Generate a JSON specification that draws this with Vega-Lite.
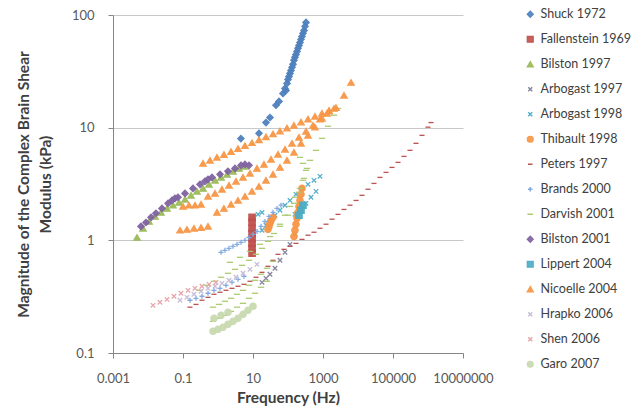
{
  "$schema": "https://vega.github.io/schema/vega-lite/v6.json",
  "width": 350,
  "height": 338,
  "autosize": {"type": "none"},
  "padding": {"left": 113, "top": 15, "right": 178, "bottom": 66},
  "background": "white",
  "config": {
    "view": {"stroke": null},
    "font": "Lato",
    "axis": {"labelFont": "Lato", "titleFont": "Lato", "labelColor": "#595959", "titleColor": "#404040", "domainColor": "#868686", "tickColor": "#868686", "gridColor": "#c8c8c8", "labelFontSize": 12.5, "titleFontSize": 15.5, "titleFontWeight": "bold"},
    "legend": {"labelFont": "Lato", "labelFontSize": 12.5, "labelColor": "#404040"}
  },
  "data": {"values": [
    {"s":"Shuck 1972","f":4.5,"g":8.0},{"s":"Shuck 1972","f":14.8,"g":8.9},{"s":"Shuck 1972","f":23.5,"g":11.1},{"s":"Shuck 1972","f":30.6,"g":12.3},{"s":"Shuck 1972","f":45.4,"g":15.8},{"s":"Shuck 1972","f":55.3,"g":17.1},{"s":"Shuck 1972","f":72,"g":20.1},{"s":"Shuck 1972","f":82,"g":22.3},{"s":"Shuck 1972","f":87.7,"g":21.4},{"s":"Shuck 1972","f":93.6,"g":24.7},{"s":"Shuck 1972","f":100,"g":26.8},{"s":"Shuck 1972","f":107,"g":28.5},{"s":"Shuck 1972","f":114,"g":30.3},{"s":"Shuck 1972","f":122,"g":32.2},{"s":"Shuck 1972","f":130,"g":34.3},{"s":"Shuck 1972","f":139,"g":36.5},{"s":"Shuck 1972","f":148,"g":39.6},{"s":"Shuck 1972","f":158,"g":42.1},{"s":"Shuck 1972","f":169,"g":44.7},{"s":"Shuck 1972","f":181,"g":47.5},{"s":"Shuck 1972","f":193,"g":50.6},{"s":"Shuck 1972","f":206,"g":53.7},{"s":"Shuck 1972","f":220,"g":57.1},{"s":"Shuck 1972","f":235,"g":60.8},{"s":"Shuck 1972","f":251,"g":64.6},{"s":"Shuck 1972","f":268,"g":68.7},{"s":"Shuck 1972","f":287,"g":73},{"s":"Shuck 1972","f":306,"g":79.3},{"s":"Shuck 1972","f":327,"g":86},
    {"s":"Fallenstein 1969","f":9.4,"g":1.6},{"s":"Fallenstein 1969","f":9.4,"g":1.45},{"s":"Fallenstein 1969","f":9.4,"g":1.28},{"s":"Fallenstein 1969","f":9.4,"g":1.15},{"s":"Fallenstein 1969","f":9.4,"g":1.04},{"s":"Fallenstein 1969","f":9.4,"g":0.94},{"s":"Fallenstein 1969","f":9.4,"g":0.85},{"s":"Fallenstein 1969","f":9.4,"g":0.77},
    {"s":"Bilston 1997","f":0.00485,"g":1.06},{"s":"Bilston 1997","f":0.0072,"g":1.28},{"s":"Bilston 1997","f":0.0107,"g":1.47},{"s":"Bilston 1997","f":0.0158,"g":1.63},{"s":"Bilston 1997","f":0.0235,"g":1.77},{"s":"Bilston 1997","f":0.0349,"g":1.92},{"s":"Bilston 1997","f":0.0518,"g":2.05},{"s":"Bilston 1997","f":0.0769,"g":2.17},{"s":"Bilston 1997","f":0.114,"g":2.31},{"s":"Bilston 1997","f":0.169,"g":2.51},{"s":"Bilston 1997","f":0.251,"g":2.72},{"s":"Bilston 1997","f":0.373,"g":2.89},{"s":"Bilston 1997","f":0.553,"g":3.14},{"s":"Bilston 1997","f":0.821,"g":3.41},{"s":"Bilston 1997","f":1.22,"g":3.62},{"s":"Bilston 1997","f":1.81,"g":3.85},{"s":"Bilston 1997","f":2.68,"g":4.1},{"s":"Bilston 1997","f":3.98,"g":4.35},{"s":"Bilston 1997","f":5.9,"g":4.54},
    {"s":"Arbogast 1997","f":18.1,"g":0.424},{"s":"Arbogast 1997","f":23.5,"g":0.46},{"s":"Arbogast 1997","f":30.6,"g":0.5},{"s":"Arbogast 1997","f":42.5,"g":0.565},{"s":"Arbogast 1997","f":59,"g":0.665},{"s":"Arbogast 1997","f":82,"g":0.783},{"s":"Arbogast 1997","f":114,"g":0.922},{"s":"Arbogast 1997","f":158,"g":1.13},
    {"s":"Arbogast 1998","f":13.9,"g":1.7},{"s":"Arbogast 1998","f":18.1,"g":1.77},{"s":"Arbogast 1998","f":18.1,"g":1.23},{"s":"Arbogast 1998","f":23.5,"g":1.36},{"s":"Arbogast 1998","f":30.6,"g":1.5},{"s":"Arbogast 1998","f":42.5,"g":1.67},{"s":"Arbogast 1998","f":59,"g":1.85},{"s":"Arbogast 1998","f":82,"g":2.05},{"s":"Arbogast 1998","f":114,"g":2.26},{"s":"Arbogast 1998","f":169,"g":2.56},{"s":"Arbogast 1998","f":251,"g":2.89},{"s":"Arbogast 1998","f":373,"g":3.14},{"s":"Arbogast 1998","f":553,"g":3.41},{"s":"Arbogast 1998","f":821,"g":3.7},{"s":"Arbogast 1998","f":158,"g":1.7},{"s":"Arbogast 1998","f":235,"g":1.88},{"s":"Arbogast 1998","f":327,"g":2.13},{"s":"Arbogast 1998","f":454,"g":2.41},{"s":"Arbogast 1998","f":631,"g":2.72},
    {"s":"Thibault 1998","f":26.8,"g":1.25},{"s":"Thibault 1998","f":28.6,"g":1.33},{"s":"Thibault 1998","f":30.6,"g":1.42},{"s":"Thibault 1998","f":32.7,"g":1.5},{"s":"Thibault 1998","f":37.3,"g":1.6},{"s":"Thibault 1998","f":148,"g":1.08},{"s":"Thibault 1998","f":158,"g":1.23},{"s":"Thibault 1998","f":169,"g":1.39},{"s":"Thibault 1998","f":181,"g":1.57},{"s":"Thibault 1998","f":193,"g":1.77},{"s":"Thibault 1998","f":206,"g":2.0},{"s":"Thibault 1998","f":220,"g":2.26},{"s":"Thibault 1998","f":235,"g":2.56},{"s":"Thibault 1998","f":251,"g":2.89},
    {"s":"Peters 1997","f":0.158,"g":0.255},{"s":"Peters 1997","f":0.235,"g":0.27},{"s":"Peters 1997","f":0.349,"g":0.294},{"s":"Peters 1997","f":0.518,"g":0.312},{"s":"Peters 1997","f":0.769,"g":0.332},{"s":"Peters 1997","f":1.14,"g":0.346},{"s":"Peters 1997","f":1.69,"g":0.36},{"s":"Peters 1997","f":2.51,"g":0.375},{"s":"Peters 1997","f":3.73,"g":0.391},{"s":"Peters 1997","f":5.53,"g":0.407},{"s":"Peters 1997","f":8.2,"g":0.433},{"s":"Peters 1997","f":12.2,"g":0.47},{"s":"Peters 1997","f":18.1,"g":0.52},{"s":"Peters 1997","f":26.8,"g":0.588},{"s":"Peters 1997","f":37.3,"g":0.665},{"s":"Peters 1997","f":51.8,"g":0.751},{"s":"Peters 1997","f":76.9,"g":0.832},{"s":"Peters 1997","f":114,"g":0.885},{"s":"Peters 1997","f":169,"g":0.94},{"s":"Peters 1997","f":251,"g":1.02},{"s":"Peters 1997","f":373,"g":1.11},{"s":"Peters 1997","f":553,"g":1.18},{"s":"Peters 1997","f":821,"g":1.28},{"s":"Peters 1997","f":1218,"g":1.39},{"s":"Peters 1997","f":1808,"g":1.54},{"s":"Peters 1997","f":2683,"g":1.7},{"s":"Peters 1997","f":3981,"g":1.88},{"s":"Peters 1997","f":5906,"g":2.05},{"s":"Peters 1997","f":8770,"g":2.26},{"s":"Peters 1997","f":13000,"g":2.51},{"s":"Peters 1997","f":19300,"g":2.84},{"s":"Peters 1997","f":28600,"g":3.2},{"s":"Peters 1997","f":42500,"g":3.62},{"s":"Peters 1997","f":63100,"g":4.01},{"s":"Peters 1997","f":93600,"g":4.44},{"s":"Peters 1997","f":139000,"g":4.92},{"s":"Peters 1997","f":206000,"g":5.56},{"s":"Peters 1997","f":306000,"g":6.29},{"s":"Peters 1997","f":454000,"g":7.26},{"s":"Peters 1997","f":674000,"g":8.55},{"s":"Peters 1997","f":1000000,"g":10.1},{"s":"Peters 1997","f":1218000,"g":11.1},
    {"s":"Brands 2000","f":1.22,"g":0.783},{"s":"Brands 2000","f":1.58,"g":0.815},{"s":"Brands 2000","f":2.06,"g":0.849},{"s":"Brands 2000","f":2.68,"g":0.885},{"s":"Brands 2000","f":3.49,"g":0.922},{"s":"Brands 2000","f":4.54,"g":0.96},{"s":"Brands 2000","f":5.9,"g":1.0},{"s":"Brands 2000","f":7.69,"g":1.06},{"s":"Brands 2000","f":10,"g":1.13},{"s":"Brands 2000","f":13,"g":1.2},{"s":"Brands 2000","f":16.9,"g":1.33},{"s":"Brands 2000","f":22,"g":1.47},{"s":"Brands 2000","f":28.6,"g":1.63},{"s":"Brands 2000","f":37.3,"g":1.77},{"s":"Brands 2000","f":48.5,"g":1.92},{"s":"Brands 2000","f":63.1,"g":2.05},{"s":"Brands 2000","f":0.158,"g":0.294},{"s":"Brands 2000","f":0.235,"g":0.306},{"s":"Brands 2000","f":0.349,"g":0.319},{"s":"Brands 2000","f":0.518,"g":0.339},{"s":"Brands 2000","f":0.769,"g":0.36},{"s":"Brands 2000","f":1.14,"g":0.375},{"s":"Brands 2000","f":1.69,"g":0.399},{"s":"Brands 2000","f":2.51,"g":0.424},{"s":"Brands 2000","f":3.73,"g":0.451},{"s":"Brands 2000","f":5.53,"g":0.48},
    {"s":"Darvish 2001","f":0.72,"g":0.191},{"s":"Darvish 2001","f":1.07,"g":0.203},{"s":"Darvish 2001","f":1.58,"g":0.216},{"s":"Darvish 2001","f":2.35,"g":0.234},{"s":"Darvish 2001","f":3.49,"g":0.255},{"s":"Darvish 2001","f":5.18,"g":0.276},{"s":"Darvish 2001","f":7.69,"g":0.306},{"s":"Darvish 2001","f":11.4,"g":0.339},{"s":"Darvish 2001","f":16.9,"g":0.383},{"s":"Darvish 2001","f":25.1,"g":0.433},
    {"s":"Darvish 2001","f":0.72,"g":0.255},{"s":"Darvish 2001","f":1.07,"g":0.27},{"s":"Darvish 2001","f":1.58,"g":0.288},{"s":"Darvish 2001","f":2.35,"g":0.306},{"s":"Darvish 2001","f":3.49,"g":0.332},{"s":"Darvish 2001","f":5.18,"g":0.36},{"s":"Darvish 2001","f":7.69,"g":0.399},{"s":"Darvish 2001","f":11.4,"g":0.442},{"s":"Darvish 2001","f":16.9,"g":0.5},{"s":"Darvish 2001","f":25.1,"g":0.565},{"s":"Darvish 2001","f":37.3,"g":0.651},
    {"s":"Darvish 2001","f":0.306,"g":0.36},{"s":"Darvish 2001","f":0.485,"g":0.399},{"s":"Darvish 2001","f":0.769,"g":0.433},{"s":"Darvish 2001","f":1.22,"g":0.47},{"s":"Darvish 2001","f":1.93,"g":0.51},{"s":"Darvish 2001","f":3.06,"g":0.553},{"s":"Darvish 2001","f":4.85,"g":0.6},{"s":"Darvish 2001","f":7.69,"g":0.665},{"s":"Darvish 2001","f":12.2,"g":0.751},{"s":"Darvish 2001","f":18.1,"g":0.849},{"s":"Darvish 2001","f":26.8,"g":0.98},{"s":"Darvish 2001","f":39.8,"g":1.15},{"s":"Darvish 2001","f":59,"g":1.39},{"s":"Darvish 2001","f":82,"g":1.67},{"s":"Darvish 2001","f":114,"g":2.0},{"s":"Darvish 2001","f":158,"g":2.41},{"s":"Darvish 2001","f":220,"g":2.89},{"s":"Darvish 2001","f":287,"g":3.55},{"s":"Darvish 2001","f":349,"g":4.35},{"s":"Darvish 2001","f":425,"g":5.13},{"s":"Darvish 2001","f":631,"g":6.29},{"s":"Darvish 2001","f":936,"g":8.04},{"s":"Darvish 2001","f":1390,"g":10.3},{"s":"Darvish 2001","f":2060,"g":12.9},{"s":"Darvish 2001","f":2683,"g":14.8},
    {"s":"Darvish 2001","f":2.2,"g":0.638},{"s":"Darvish 2001","f":4.25,"g":0.707},{"s":"Darvish 2001","f":8.2,"g":0.798},{"s":"Darvish 2001","f":15.8,"g":0.922},{"s":"Darvish 2001","f":30.6,"g":1.08},{"s":"Darvish 2001","f":59,"g":1.33},{"s":"Darvish 2001","f":100,"g":1.67},{"s":"Darvish 2001","f":148,"g":2.13},{"s":"Darvish 2001","f":206,"g":2.67},{"s":"Darvish 2001","f":268,"g":3.41},{"s":"Darvish 2001","f":327,"g":4.18},{"s":"Darvish 2001","f":268,"g":4.82},{"s":"Darvish 2001","f":220,"g":5.45},
    {"s":"Bilston 2001","f":0.0063,"g":1.33},{"s":"Bilston 2001","f":0.00877,"g":1.44},{"s":"Bilston 2001","f":0.0122,"g":1.6},{"s":"Bilston 2001","f":0.0169,"g":1.74},{"s":"Bilston 2001","f":0.0251,"g":1.92},{"s":"Bilston 2001","f":0.0373,"g":2.13},{"s":"Bilston 2001","f":0.0485,"g":2.26},{"s":"Bilston 2001","f":0.059,"g":2.36},{"s":"Bilston 2001","f":0.072,"g":2.41},{"s":"Bilston 2001","f":0.114,"g":2.61},{"s":"Bilston 2001","f":0.193,"g":2.89},{"s":"Bilston 2001","f":0.306,"g":3.14},{"s":"Bilston 2001","f":0.425,"g":3.34},{"s":"Bilston 2001","f":0.518,"g":3.48},{"s":"Bilston 2001","f":0.674,"g":3.62},{"s":"Bilston 2001","f":1.14,"g":3.85},{"s":"Bilston 2001","f":1.93,"g":4.1},{"s":"Bilston 2001","f":3.06,"g":4.35},{"s":"Bilston 2001","f":4.54,"g":4.63},{"s":"Bilston 2001","f":5.9,"g":4.72},{"s":"Bilston 2001","f":7.69,"g":4.63},
    {"s":"Lippert 2004","f":206,"g":1.67},{"s":"Lippert 2004","f":235,"g":1.85},{"s":"Lippert 2004","f":268,"g":2.05},
    {"s":"Nicoelle 2004","f":0.373,"g":4.82},{"s":"Nicoelle 2004","f":0.59,"g":5.13},{"s":"Nicoelle 2004","f":0.936,"g":5.45},{"s":"Nicoelle 2004","f":1.48,"g":5.78},{"s":"Nicoelle 2004","f":2.35,"g":6.14},{"s":"Nicoelle 2004","f":3.73,"g":6.53},{"s":"Nicoelle 2004","f":5.9,"g":6.92},{"s":"Nicoelle 2004","f":9.36,"g":7.35},{"s":"Nicoelle 2004","f":14.8,"g":7.81},{"s":"Nicoelle 2004","f":23.5,"g":8.28},{"s":"Nicoelle 2004","f":37.3,"g":8.79},{"s":"Nicoelle 2004","f":59,"g":9.33},{"s":"Nicoelle 2004","f":93.6,"g":9.91},{"s":"Nicoelle 2004","f":148,"g":10.5},{"s":"Nicoelle 2004","f":235,"g":11.2},{"s":"Nicoelle 2004","f":373,"g":11.9},{"s":"Nicoelle 2004","f":590,"g":12.6},{"s":"Nicoelle 2004","f":936,"g":13.4},{"s":"Nicoelle 2004","f":1484,"g":14.2},{"s":"Nicoelle 2004","f":2350,"g":15.1},{"s":"Nicoelle 2004","f":3981,"g":19.4},{"s":"Nicoelle 2004","f":6310,"g":25.2},
    {"s":"Nicoelle 2004","f":0.1,"g":2.0},{"s":"Nicoelle 2004","f":0.148,"g":2.05},{"s":"Nicoelle 2004","f":0.22,"g":2.05},{"s":"Nicoelle 2004","f":0.327,"g":2.09},{"s":"Nicoelle 2004","f":0.518,"g":2.46},{"s":"Nicoelle 2004","f":0.821,"g":2.61},{"s":"Nicoelle 2004","f":1.3,"g":2.84},{"s":"Nicoelle 2004","f":2.06,"g":3.08},{"s":"Nicoelle 2004","f":3.27,"g":3.34},{"s":"Nicoelle 2004","f":5.18,"g":3.62},{"s":"Nicoelle 2004","f":8.2,"g":3.93},{"s":"Nicoelle 2004","f":13,"g":4.35},{"s":"Nicoelle 2004","f":20.6,"g":4.72},{"s":"Nicoelle 2004","f":32.7,"g":5.23},{"s":"Nicoelle 2004","f":51.8,"g":5.8},{"s":"Nicoelle 2004","f":82,"g":6.42},{"s":"Nicoelle 2004","f":130,"g":7.26},{"s":"Nicoelle 2004","f":206,"g":8.2},{"s":"Nicoelle 2004","f":327,"g":9.27},{"s":"Nicoelle 2004","f":518,"g":10.5},{"s":"Nicoelle 2004","f":821,"g":11.9},{"s":"Nicoelle 2004","f":1300,"g":13.4},{"s":"Nicoelle 2004","f":2060,"g":14.8},
    {"s":"Nicoelle 2004","f":0.082,"g":1.23},{"s":"Nicoelle 2004","f":0.13,"g":1.25},{"s":"Nicoelle 2004","f":0.206,"g":1.28},{"s":"Nicoelle 2004","f":0.327,"g":1.3},{"s":"Nicoelle 2004","f":0.518,"g":1.33},{"s":"Nicoelle 2004","f":0.936,"g":1.77},{"s":"Nicoelle 2004","f":1.48,"g":1.92},{"s":"Nicoelle 2004","f":2.35,"g":2.09},{"s":"Nicoelle 2004","f":3.73,"g":2.26},{"s":"Nicoelle 2004","f":5.9,"g":2.46},{"s":"Nicoelle 2004","f":9.36,"g":2.72},{"s":"Nicoelle 2004","f":14.8,"g":3.01},{"s":"Nicoelle 2004","f":23.5,"g":3.41},{"s":"Nicoelle 2004","f":37.3,"g":3.85},{"s":"Nicoelle 2004","f":59,"g":4.44},{"s":"Nicoelle 2004","f":93.6,"g":5.13},{"s":"Nicoelle 2004","f":148,"g":6.04},{"s":"Nicoelle 2004","f":235,"g":7.26},{"s":"Nicoelle 2004","f":373,"g":8.55},{"s":"Nicoelle 2004","f":590,"g":10.1},{"s":"Nicoelle 2004","f":936,"g":12.1},{"s":"Nicoelle 2004","f":1484,"g":14},
    {"s":"Hrapko 2006","f":0.082,"g":0.294},{"s":"Hrapko 2006","f":0.13,"g":0.312},{"s":"Hrapko 2006","f":0.206,"g":0.332},{"s":"Hrapko 2006","f":0.327,"g":0.353},{"s":"Hrapko 2006","f":0.518,"g":0.375},{"s":"Hrapko 2006","f":0.821,"g":0.391},{"s":"Hrapko 2006","f":1.3,"g":0.415},{"s":"Hrapko 2006","f":2.06,"g":0.442},{"s":"Hrapko 2006","f":3.27,"g":0.47},{"s":"Hrapko 2006","f":5.18,"g":0.51},{"s":"Hrapko 2006","f":8.2,"g":0.553},{"s":"Hrapko 2006","f":13,"g":0.612},
    {"s":"Shen 2006","f":0.0139,"g":0.265},{"s":"Shen 2006","f":0.022,"g":0.282},{"s":"Shen 2006","f":0.0349,"g":0.299},{"s":"Shen 2006","f":0.0553,"g":0.319},{"s":"Shen 2006","f":0.0877,"g":0.339},{"s":"Shen 2006","f":0.139,"g":0.36},{"s":"Shen 2006","f":0.22,"g":0.375},{"s":"Shen 2006","f":0.349,"g":0.391},{"s":"Shen 2006","f":0.553,"g":0.407},{"s":"Shen 2006","f":0.877,"g":0.424},
    {"s":"Garo 2007","f":0.72,"g":0.156},{"s":"Garo 2007","f":1.0,"g":0.162},{"s":"Garo 2007","f":1.39,"g":0.169},{"s":"Garo 2007","f":1.93,"g":0.18},{"s":"Garo 2007","f":2.68,"g":0.191},{"s":"Garo 2007","f":3.73,"g":0.203},{"s":"Garo 2007","f":5.18,"g":0.22},{"s":"Garo 2007","f":7.2,"g":0.239},{"s":"Garo 2007","f":10,"g":0.26},{"s":"Garo 2007","f":0.769,"g":0.203},{"s":"Garo 2007","f":1.22,"g":0.216},{"s":"Garo 2007","f":1.93,"g":0.23}
  ]},
  "mark": {"type": "point", "size": 40, "strokeWidth": 1.3, "opacity": 0.95},
  "encoding": {
    "x": {"field": "f", "type": "quantitative", "scale": {"type": "log", "domain": [0.001, 10000000], "nice": false},
      "axis": {"title": "Frequency (Hz)", "values": [0.001, 0.1, 10, 1000, 100000, 10000000], "labelExpr": "'' + datum.value", "grid": false, "tickSize": 5, "labelPadding": 14, "titlePadding": 5, "labelFlush": false, "labelFontSize": 13}},
    "y": {"field": "g", "type": "quantitative", "scale": {"type": "log", "domain": [0.1, 100], "nice": false},
      "axis": {"title": ["Magnitude of the Complex Brain Shear", "Modulus (kPa)"], "values": [0.1, 1, 10, 100], "labelExpr": "'' + datum.value", "grid": true, "tickSize": 5, "labelPadding": 14, "titlePadding": 18, "titleLineHeight": 22, "titleFontSize": 15.5, "labelFlush": false, "labelFontSize": 13}},
    "fill": {"field": "s", "type": "nominal", "scale": {"domain": ["Shuck 1972","Fallenstein 1969","Bilston 1997","Arbogast 1997","Arbogast 1998","Thibault 1998","Peters 1997","Brands 2000","Darvish 2001","Bilston 2001","Lippert 2004","Nicoelle 2004","Hrapko 2006","Shen 2006","Garo 2007"], "range": ["#4F81BD","#C0504D","#9BBB59","#7F7F9A","#4BACC6","#F79646","#B84A47","#7EA6E0","#A9C96A","#8064A2","#4BACC6","#F79646","#C4BBD6","#E8A2A8","#C9DAB0"]},
      "legend": {"title": null, "orient": "none", "legendX": 411, "legendY": -7, "rowPadding": 12, "symbolSize": 32}},
    "stroke": {"field": "s", "type": "nominal", "scale": {"domain": ["Shuck 1972","Fallenstein 1969","Bilston 1997","Arbogast 1997","Arbogast 1998","Thibault 1998","Peters 1997","Brands 2000","Darvish 2001","Bilston 2001","Lippert 2004","Nicoelle 2004","Hrapko 2006","Shen 2006","Garo 2007"], "range": ["#4F81BD","#C0504D","#9BBB59","#7F7F9A","#4BACC6","#F79646","#B84A47","#7EA6E0","#A9C96A","#8064A2","#4BACC6","#F79646","#C4BBD6","#E8A2A8","#C9DAB0"]},
      "legend": {"title": null, "orient": "none", "legendX": 411, "legendY": -7, "rowPadding": 12, "symbolSize": 32}},
    "shape": {"field": "s", "type": "nominal", "scale": {"domain": ["Shuck 1972","Fallenstein 1969","Bilston 1997","Arbogast 1997","Arbogast 1998","Thibault 1998","Peters 1997","Brands 2000","Darvish 2001","Bilston 2001","Lippert 2004","Nicoelle 2004","Hrapko 2006","Shen 2006","Garo 2007"], "range": ["diamond","square","triangle-up","M-0.7,-0.7L0.7,0.7M-0.7,0.7L0.7,-0.7","M-0.7,-0.7L0.7,0.7M-0.7,0.7L0.7,-0.7","circle","M-0.8,0L0.8,0","M-0.8,0L0.8,0M0,-0.8L0,0.8","M-1,0L1,0","diamond","square","triangle-up","M-0.7,-0.7L0.7,0.7M-0.7,0.7L0.7,-0.7","M-0.7,-0.7L0.7,0.7M-0.7,0.7L0.7,-0.7","circle"]},
      "legend": {"title": null, "orient": "none", "legendX": 411, "legendY": -7, "rowPadding": 12, "symbolSize": 32}}
  }
}
